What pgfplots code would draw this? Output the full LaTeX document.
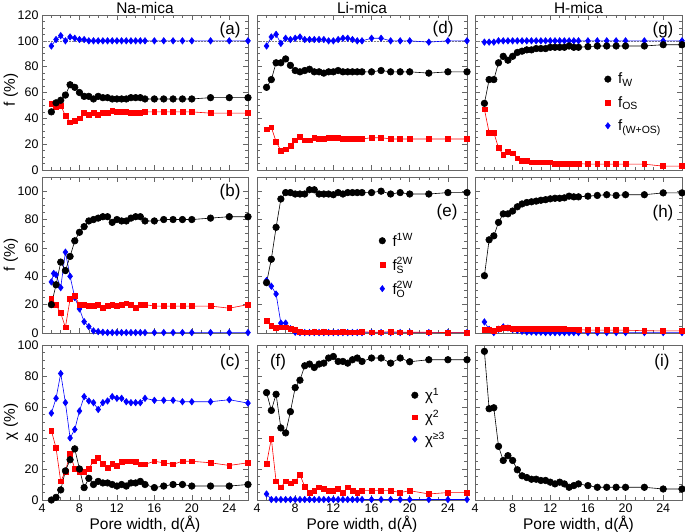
\documentclass[border=0pt]{standalone}
\usepackage{fontspec}
\setmainfont{Liberation Sans}
\usepackage{pgfplots}
\pgfplotsset{compat=1.18}
\definecolor{myred}{rgb}{1,0,0}
\definecolor{myblue}{rgb}{0,0,1}
\definecolor{frame}{gray}{0.4}
\newcommand{\smt}[1]{\mbox{\fontsize{10.5}{10.5}\selectfont #1}}
\tikzset{plab/.style={font=\fontsize{17}{17}\selectfont},
  ptitle/.style={font=\fontsize{15.5}{16}\selectfont, anchor=base, inner sep=0pt, yshift=1bp}}
\pgfplotsset{
 panel/.style={scale only axis, xmin=4, xmax=26, xtick={4,8,...,24}, minor x tick num=3, minor y tick num=3,
   tick align=inside, xtick pos=both, ytick pos=both, major tick length=5bp, minor tick length=3bp,
   axis line style={frame, line width=0.8bp}, every tick/.style={frame, line width=0.6bp},
   tick label style={font=\fontsize{12.5}{13}\selectfont, black},
   /pgf/number format/assume math mode=true, clip=false,
   xlabel style={font=\fontsize{15.5}{16}\selectfont, yshift=3bp},
   legend style={draw=none, fill=none, inner sep=0pt, column sep=5bp, font=\fontsize{15}{15}\selectfont},
   legend cell align=left,
 },
 row1/.style={ymin=0, ymax=120, ytick={0,20,...,120}, width=#1, height=155bp},
 row2/.style={ymin=0, ymax=110, ytick={0,20,...,100}, width=#1, height=156bp},
 row3/.style={ymin=0, ymax=100, ytick={0,20,...,100}, width=#1, height=155bp},
 noy/.style={yticklabels={}},
 nox/.style={xticklabels={}},
 sb/.style={black, line width=0.6bp, mark=*, mark size=3.3bp, mark options={solid, fill=black}},
 sr/.style={myred, line width=0.6bp, mark=square*, mark size=2.4bp, mark options={solid, fill=myred}},
 sbl/.style={myblue, line width=0.6bp, mark=diamond*, mark size=3.2bp, mark options={solid, fill=myblue}},
}
\begin{document}
\begin{tikzpicture}
\path[use as bounding box] (0,0) rectangle (685bp,532bp);
% y labels
\node[rotate=90, font=\fontsize{15.5}{16}\selectfont] at (11bp,442bp) {f (\%)};
\node[rotate=90, font=\fontsize{15.5}{16}\selectfont] at (11bp,277bp) {f (\%)};
\node[rotate=90, font=\fontsize{15.5}{16}\selectfont] at (11bp,110bp) {χ (\%)};

% ---------- (a) ----------
\begin{axis}[panel, row1=206bp, nox, at={(42bp,362bp)}, anchor=south west]
\draw[gray, densely dotted, line width=0.5bp] (axis cs:4,100) -- (axis cs:26,100);
\addplot[sbl] coordinates {(5,96)(5.5,101)(6,104)(6.5,100)(7,103)(7.5,102)(8,101)(8.5,101)(9,100)(9.5,100)(10,100)(10.5,100)(11,100)(11.5,100)(12,100)(12.5,100)(13,100)(13.5,100)(14,100)(14.5,100)(15,100)(16,100)(17,100)(18,100)(19,100)(20,100)(22,100)(24,100)(26,100)};
\addplot[sr] coordinates {(5,51)(5.5,49)(6,50)(6.5,42)(7,37)(7.5,38)(8,40)(8.5,44)(9,43)(9.5,44)(10,43)(10.5,44)(11,44)(11.5,46)(12,45)(12.5,45)(13,45)(13.5,44)(14,44)(14.5,44)(15,45)(16,45)(17,45)(18,45)(19,45)(20,45)(22,44)(24,44)(26,44)};
\addplot[sb] coordinates {(5,45)(5.5,52)(6,54)(6.5,58)(7,66)(7.5,64)(8,60)(8.5,57)(9,57)(9.5,55)(10,57)(10.5,56)(11,56)(11.5,55)(12,55)(12.5,55)(13,55)(13.5,56)(14,56)(14.5,56)(15,55)(16,55)(17,55)(18,55)(19,55)(20,55)(22,56)(24,56)(26,56)};
\node[plab] at (rel axis cs:0.913,0.903) {(a)};
\node[ptitle] at (rel axis cs:0.5,1) {Na-mica};
\end{axis}

% ---------- (d) ----------
\begin{axis}[panel, row1=210bp, nox, noy, at={(257bp,362bp)}, anchor=south west]
\draw[gray, densely dotted, line width=0.5bp] (axis cs:4,100) -- (axis cs:26,100);
\addplot[sbl] coordinates {(5,96)(5.5,103)(6,105)(6.5,98)(7,102)(7.5,101)(8,102)(8.5,103)(9,101)(9.5,101)(10,101)(10.5,101)(11,101)(11.5,100)(12,100)(12.5,101)(13,102)(13.5,102)(14,101)(14.5,100)(15,100)(16,102)(17,102)(18,100)(19,100)(20,100)(22,99)(24,100)(26,100)};
\addplot[sr] coordinates {(5,31.5)(5.5,33)(6,22)(6.5,15)(7,16)(7.5,19)(8,23)(8.5,26)(9,23)(9.5,23)(10,25)(10.5,24)(11,24)(11.5,25)(12,25)(12.5,25)(13,24)(13.5,24)(14,24)(14.5,24)(15,24)(16,25)(17,25)(18,24)(19,24)(20,24)(22,24)(24,24)(26,24)};
\addplot[sb] coordinates {(5,64)(5.5,70)(6,83)(6.5,83)(7,86)(7.5,81)(8,77)(8.5,76)(9,77)(9.5,78)(10,76)(10.5,76)(11,75)(11.5,76)(12,76)(12.5,77)(13,76)(13.5,76)(14,76)(14.5,76)(15,76)(16,76)(17,77)(18,76)(19,76)(20,76)(22,75)(24,76)(26,76)};
\node[plab] at (rel axis cs:0.886,0.91) {(d)};
\node[ptitle] at (rel axis cs:0.5,1) {Li-mica};
\end{axis}

% ---------- (g) ----------
\begin{axis}[panel, row1=207bp, nox, noy, at={(475bp,362bp)}, anchor=south west,
  legend style={at={(0.625,0.64)}, anchor=north west, row sep=7bp}]
\draw[gray, densely dotted, line width=0.5bp] (axis cs:4,100) -- (axis cs:26,100);
\addplot[sbl, forget plot] coordinates {(5,99)(5.5,99)(6,99)(6.5,100)(7,100)(7.5,100)(8,100)(8.5,100)(9,100)(9.5,100)(10,100)(10.5,100)(11,100)(11.5,100)(12,100)(12.5,100)(13,100)(13.5,100)(14,100)(14.5,100)(15,100)(16,100)(17,100)(18,100)(19,100)(20,100)(22,100)(24,100)(26,100)};
\addplot[sr, forget plot] coordinates {(5,47)(5.5,29)(6,29)(6.5,17)(7,12)(7.5,14)(8,13)(8.5,9)(9,7)(9.5,7)(10,6)(10.5,6)(11,6)(11.5,6)(12,6)(12.5,5)(13,5)(13.5,5)(14,4.5)(14.5,5)(15,5)(16,4.5)(17,4.5)(18,4.5)(19,4.5)(20,4.5)(22,4.5)(24,3)(26,3)};
\addplot[sb, forget plot] coordinates {(5,51.6)(5.5,70)(6,70)(6.5,83)(7,88)(7.5,85)(8,88)(8.5,91)(9,92)(9.5,93)(10,93)(10.5,94)(11,94)(11.5,94)(12,95)(12.5,95)(13,95)(13.5,95)(14,96)(14.5,95)(15,95)(16,95.5)(17,96)(18,96)(19,96)(20,96)(22,96)(24,97)(26,97)};
\addlegendimage{only marks, mark=*, mark size=3.3bp, black}
\addlegendentry{f\textsubscript{W}}
\addlegendimage{only marks, mark=square*, mark size=2.4bp, myred}
\addlegendentry{f\textsubscript{OS}}
\addlegendimage{only marks, mark=diamond*, mark size=3.2bp, myblue}
\addlegendentry{f\textsubscript{(W+OS)}}
\node[plab] at (rel axis cs:0.908,0.903) {(g)};
\node[ptitle] at (rel axis cs:0.5,1) {H-mica};
\end{axis}

% ---------- (b) ----------
\begin{axis}[panel, row2=206bp, nox, at={(42bp,199bp)}, anchor=south west]
\addplot[sbl] coordinates {(5,36)(5.25,42)(5.5,41)(6,32)(6.5,57)(7,40)(7.5,25)(8,17)(8.5,8)(9,4.5)(9.5,1.5)(10,1)(10.5,0.5)(11,0.3)(11.5,0.3)(12,0.3)(12.5,0.3)(13,0.3)(13.5,0.3)(14,0.3)(14.5,0.3)(15,0.3)(16,0.3)(17,0.3)(18,0.3)(19,0.3)(20,0.3)(22,0.3)(24,0.3)(26,0.3)};
\addplot[sr] coordinates {(5,24)(5.5,20)(6,14)(6.5,4)(7,24)(7.5,26)(8,20)(8.5,20)(9,19)(9.5,19)(10,20)(10.5,18)(11,19)(11.5,20)(12,19)(12.5,20)(13,21)(13.5,20)(14,18)(14.5,20)(15,20)(16,19)(17,19)(18,19)(19,19)(20,19)(22,19)(24,17.5)(26,20)};
\addplot[sb] coordinates {(5,20)(5.5,34)(6,50)(6.5,44)(7,54)(7.5,65)(8,71)(8.5,75)(9,79)(9.5,80)(10,81)(10.5,82)(11,82)(11.5,78)(12,80)(12.5,79)(13,79)(13.5,81)(14,82)(14.5,82)(15,79)(16,79)(17,80)(18,80)(19,80)(20,80)(22,81)(24,82)(26,82)};
\node[plab] at (rel axis cs:0.913,0.904) {(b)};
\end{axis}

% ---------- (e) ----------
\begin{axis}[panel, row2=210bp, nox, noy, at={(257bp,199bp)}, anchor=south west,
  legend style={at={(0.58,0.65)}, anchor=north west, row sep=6bp}]
\addplot[sbl, forget plot] coordinates {(5,37)(5.5,33)(6,27.5)(6.5,7)(7,7)(7.5,3)(8,0.5)(8.5,0.3)(9,0.3)(9.5,0.3)(10,0.3)(10.5,0.3)(11,0.3)(11.5,0.3)(12,0.3)(12.5,0.3)(13,0.3)(13.5,0.3)(14,0.3)(14.5,0.3)(15,0.3)(16,0.3)(17,0.3)(18,0.3)(19,0.3)(20,0.3)(22,0.3)(24,0.3)(26,0.3)};
\addplot[sr, forget plot] coordinates {(5,8.5)(5.5,5)(6,3.5)(6.5,4)(7,4)(7.5,3)(8,2)(8.5,1)(9,0.5)(9.5,0.5)(10,1)(10.5,0.5)(11,1)(11.5,0.5)(12,0.5)(12.5,0.5)(13,1)(13.5,0.5)(14,0.5)(14.5,0.5)(15,1)(16,0.5)(17,0.5)(18,1)(19,0.5)(20,0.5)(22,0.5)(24,0.3)(26,0.3)};
\addplot[sb, forget plot] coordinates {(5,35.5)(5.5,52)(6,74.5)(6.5,94.5)(7,99)(7.5,99)(8,98)(8.5,98)(9,98)(9.5,101)(10,101)(10.5,98)(11,98)(11.5,98)(12,97.5)(12.5,99)(13,98)(13.5,99)(14,99)(14.5,99)(15,99)(16,99)(17,100)(18,98)(19,99)(20,98)(22,98)(24,99)(26,99)};
\addlegendimage{only marks, mark=*, mark size=3.3bp, black}
\addlegendentry{f$^{\smt{1W}}$}
\addlegendimage{only marks, mark=square*, mark size=2.4bp, myred}
\addlegendentry{f$^{\smt{2W}}_{\smt{S}}$}
\addlegendimage{only marks, mark=diamond*, mark size=3.2bp, myblue}
\addlegendentry{f$^{\smt{2W}}_{\smt{O}}$}
\node[plab] at (rel axis cs:0.905,0.776) {(e)};
\end{axis}

% ---------- (h) ----------
\begin{axis}[panel, row2=207bp, nox, noy, at={(475bp,199bp)}, anchor=south west]
\addplot[sbl] coordinates {(5,7.8)(5.5,2.6)(6,0.3)(6.5,2.6)(7,4.3)(7.5,3.5)(8,2.4)(8.5,1.9)(9,1.2)(9.5,0.7)(10,0.7)(10.5,0.5)(11,0.5)(11.5,0.3)(12,0.3)(12.5,0.3)(13,0.3)(13.5,0.3)(14,0.3)(14.5,0.3)(15,0.3)(16,0.3)(17,0.3)(18,0.3)(19,0.3)(20,0.3)(22,0.3)(24,0.3)(26,0.3)};
\addplot[sr] coordinates {(5,2.4)(5.5,2.4)(6,1.4)(6.5,3)(7,3.5)(7.5,3.5)(8,3)(8.5,3)(9,3)(9.5,3)(10,3)(10.5,3)(11,3)(11.5,3)(12,3)(12.5,3)(13,2.8)(13.5,2.8)(14,2.6)(14.5,2.6)(15,2.4)(16,2)(17,2)(18,2)(19,2)(20,2)(22,1.6)(24,1.5)(26,1.5)};
\addplot[sb] coordinates {(5,40.4)(5.5,65.7)(6,68.5)(6.5,78)(7,84)(7.5,84)(8,86)(8.5,89)(9,91)(9.5,92)(10,92.5)(10.5,93)(11,93.6)(11.5,94)(12,94.6)(12.5,95)(13,95)(13.5,95.3)(14,96.5)(14.5,96)(15,96)(16,96.5)(17,97)(18,97.5)(19,97)(20,97.5)(22,97.5)(24,98.8)(26,98.8)};
\node[plab] at (rel axis cs:0.908,0.77) {(h)};
\end{axis}

% ---------- (c) ----------
\begin{axis}[panel, row3=206bp, at={(42bp,32bp)}, anchor=south west, xlabel={Pore width, d(Å)}]
\addplot[sbl] coordinates {(5,56)(5.5,65.6)(6,81.6)(6.5,62.8)(7,40)(7.5,45.5)(8,57.4)(8.5,66.7)(9,63.9)(9.5,62.8)(10,58.4)(10.5,62.8)(11,63.9)(11.5,66.7)(12,65.6)(12.5,65.6)(13,63.4)(13.5,62.8)(14,62.8)(14.5,62.8)(15,65.6)(16,64.3)(17,64.3)(18,64.3)(19,63.4)(20,63.4)(22,63.4)(24,64.7)(26,62.5)};
\addplot[sr] coordinates {(5,44.8)(5.5,33.5)(6,12)(6.5,18.4)(7,30)(7.5,20)(8,18)(8.5,18)(9,20.3)(9.5,25)(10,27)(10.5,23.4)(11,20.6)(11.5,23.4)(12,22.3)(12.5,24.5)(13,25)(13.5,25)(14,24.5)(14.5,23)(15,23)(16,25)(17,24)(18,23)(19,25)(20,25)(22,24)(24,22.3)(26,24)};
\addplot[sb] coordinates {(5,0)(5.5,1.7)(6,6.5)(6.5,18.8)(7,26)(7.5,33)(8,20)(8.5,8)(9,14)(9.5,10)(10,12)(10.5,11)(11,11)(11.5,10)(12,9)(12.5,10)(13,9)(13.5,11)(14,11)(14.5,12)(15,10)(16,8)(17,9)(18,10)(19,10)(20,9)(22,9)(24,9)(26,10)};
\node[plab] at (rel axis cs:0.913,0.89) {(c)};
\end{axis}

% ---------- (f) ----------
\begin{axis}[panel, row3=210bp, noy, at={(257bp,32bp)}, anchor=south west, xlabel={Pore width, d(Å)},
  legend style={at={(0.735,0.735)}, anchor=north west, row sep=4bp}]
\addplot[sbl, forget plot] coordinates {(5,3.9)(5.5,0.3)(6,0.3)(6.5,0.3)(7,0.3)(7.5,0.3)(8,0.3)(8.5,0.3)(9,0.3)(9.5,0.3)(10,0.3)(10.5,0.3)(11,0.3)(11.5,0.3)(12,0.3)(12.5,0.3)(13,0.3)(13.5,0.3)(14,0.3)(14.5,0.3)(15,0.3)(16,0.3)(17,0.3)(18,0.3)(19,0.3)(20,0.3)(22,0.3)(24,0.3)(26,0.3)};
\addplot[sr, forget plot] coordinates {(5,23.4)(5.5,39.6)(6,12)(6.5,8.2)(7,12)(7.5,10.8)(8,12)(8.5,16.2)(9,8.7)(9.5,4.8)(10,6)(10.5,8.2)(11,7.1)(11.5,6)(12,6)(12.5,7.1)(13,4.8)(13.5,8.2)(14,6)(14.5,4.8)(15,6)(16,6)(17,6)(18,6)(19,4.8)(20,6)(22,3.9)(24,4.8)(26,4.8)};
\addplot[sb, forget plot] coordinates {(5,69.3)(5.5,57.8)(6,68.2)(6.5,46.5)(7,43.3)(7.5,57)(8,72.5)(8.5,77.3)(9,86.6)(9.5,87.7)(10,85.5)(10.5,87.7)(11,88.3)(11.5,91.6)(12,92.6)(12.5,89.4)(13,89.4)(13.5,88.3)(14,90.5)(14.5,91.6)(15,89.4)(16,91.6)(17,91.6)(18,88.3)(19,91.6)(20,89.2)(22,90.5)(24,90.5)(26,90.5)};
\addlegendimage{only marks, mark=*, mark size=3.3bp, black}
\addlegendentry{χ\textsuperscript{1}}
\addlegendimage{only marks, mark=square*, mark size=2.4bp, myred}
\addlegendentry{χ\textsuperscript{2}}
\addlegendimage{only marks, mark=diamond*, mark size=3.2bp, myblue}
\addlegendentry{χ\textsuperscript{≥3}}
\node[plab] at (rel axis cs:0.1,0.89) {(f)};
\end{axis}

% ---------- (i) ----------
\begin{axis}[panel, row3=207bp, noy, at={(475bp,32bp)}, anchor=south west, xlabel={Pore width, d(Å)}]
\addplot[sb] coordinates {(5,95.9)(5.5,58.9)(6,59.5)(6.5,34.6)(7,25.5)(7.5,28.6)(8,25.5)(8.5,19.5)(9,15.6)(9.5,14.5)(10,13.4)(10.5,13.4)(11,12.6)(11.5,12.6)(12,11.5)(12.5,10.4)(13,11.5)(13.5,10.4)(14,8.2)(14.5,9.3)(15,10.4)(16,9.3)(17,8.2)(18,8.2)(19,8.2)(20,8.2)(22,8.2)(24,7.1)(26,7.1)};
\node[plab] at (rel axis cs:0.903,0.89) {(i)};
\end{axis}
\end{tikzpicture}
\end{document}
